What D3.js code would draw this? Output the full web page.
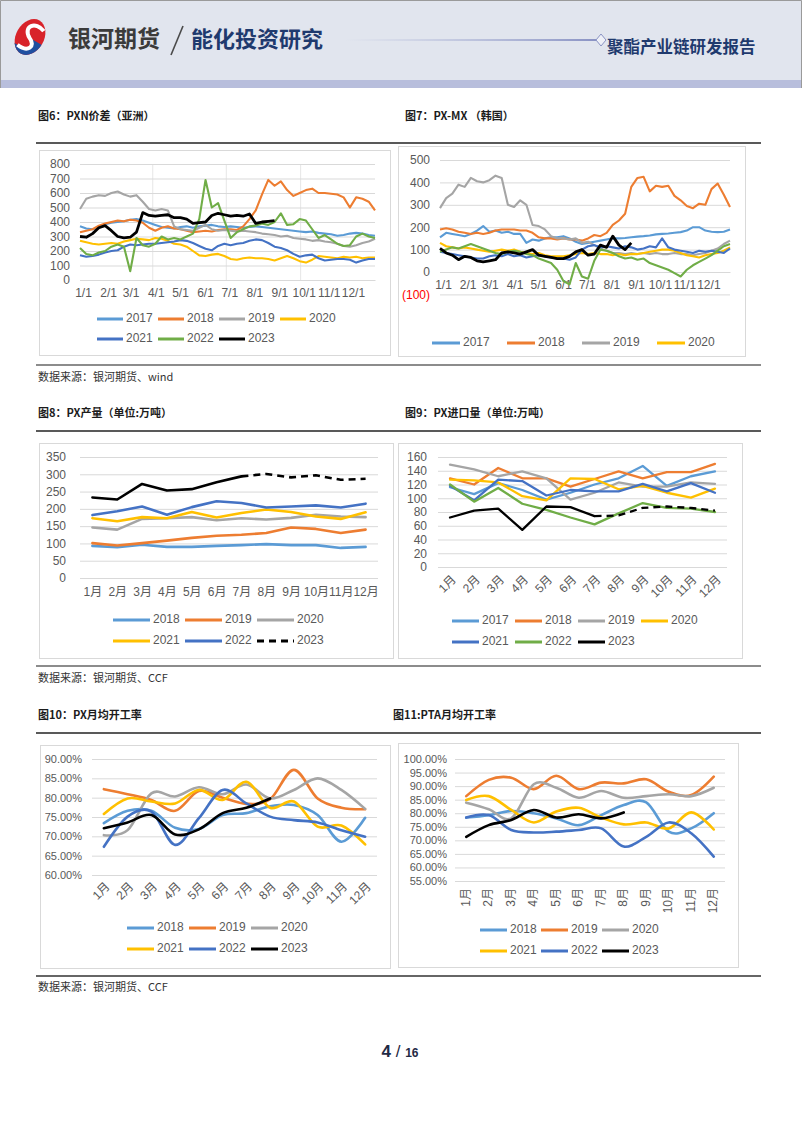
<!DOCTYPE html>
<html><head><meta charset="utf-8">
<script src="https://cdnjs.cloudflare.com/ajax/libs/d3/7.8.5/d3.min.js"></script>
<style>body{margin:0;background:#fff}svg{display:block}</style>
</head><body><script>
// ---------------- DATA ----------------
const monthDays = [0,31,59,90,120,151,181,212,243,273,304,334];
const dateLabels = ["1/1","2/1","3/1","4/1","5/1","6/1","7/1","8/1","9/1","10/1","11/1","12/1"];
const monthsCN = ["1月","2月","3月","4月","5月","6月","7月","8月","9月","10月","11月","12月"];

// Fig 6 PXN spread (Asia), ~weekly samples over the year
const pxn2017 = [370,355,350,360,385,395,400,405,415,420,410,395,380,365,360,355,365,370,360,370,375,380,370,365,370,365,360,365,370,365,360,355,350,345,340,335,330,335,325,320,315,305,310,320,325,320,310,305];
const pxn2018 = [330,340,350,375,390,400,410,405,415,410,395,360,340,360,370,355,350,340,330,335,340,335,345,350,350,345,370,420,480,590,690,650,680,620,580,600,620,630,600,600,595,590,570,500,570,560,540,480];
const pxn2019 = [490,560,575,585,580,600,610,590,575,585,540,490,480,490,480,370,350,345,340,360,380,350,340,345,340,335,340,335,330,320,315,310,300,305,290,285,280,270,275,265,260,250,235,230,240,255,265,285];
const pxn2020 = [270,260,250,245,250,255,250,265,275,285,280,275,290,285,270,250,245,230,200,170,165,175,180,165,145,140,150,155,150,150,145,135,150,165,150,130,120,140,165,160,155,150,160,155,160,150,155,155];
const pxn2021 = [170,160,165,175,190,200,205,230,245,240,245,250,250,255,260,265,275,270,255,235,215,205,235,250,240,250,255,270,280,275,255,230,220,205,180,160,170,175,150,135,140,145,145,140,120,135,145,145];
const pxn2022 = [220,180,170,190,200,230,245,230,60,290,240,230,250,300,280,290,280,300,320,420,690,500,530,410,290,330,350,370,375,390,380,400,460,380,385,420,410,350,290,310,280,250,235,240,300,320,300,290];
const pxn2023 = [300,295,320,360,375,340,300,290,295,330,465,445,440,445,450,430,430,420,390,395,400,445,460,450,440,445,440,455,390,400,405,410];

// Fig 7 PX-MX (Korea)
const pxmx2017 = [155,175,170,165,160,170,185,205,180,185,175,180,170,170,130,145,140,150,155,155,160,150,135,125,130,135,140,145,150,150,152,155,158,160,163,168,170,172,175,178,185,200,200,185,180,178,180,190];
const pxmx2018 = [190,195,190,180,175,170,175,170,175,185,190,190,190,185,185,175,155,150,150,145,150,145,145,140,150,165,160,175,210,230,260,380,420,425,360,385,380,385,340,320,295,285,305,300,370,395,345,290];
const pxmx2019 = [285,330,350,390,380,420,405,400,410,430,420,300,290,320,300,210,205,190,160,150,150,145,150,130,135,120,105,95,85,85,80,85,80,85,80,85,80,80,85,80,80,75,80,85,95,105,125,140];
const pxmx2020 = [130,115,110,105,110,105,100,95,90,95,100,95,100,90,85,80,85,75,70,70,70,75,80,85,80,85,80,80,75,80,75,80,80,85,90,95,100,100,95,85,75,70,65,75,80,85,95,110];
const pxmx2021 = [90,85,80,75,70,65,60,60,70,75,70,80,70,75,65,70,75,70,65,60,60,55,65,100,115,120,110,115,110,105,115,110,100,105,115,110,150,110,100,95,90,85,95,90,95,90,85,105];
const pxmx2022 = [90,100,110,105,115,125,115,105,95,85,80,90,95,90,80,75,60,50,40,10,-40,-55,40,-20,-30,50,100,95,85,70,60,65,55,60,40,30,20,10,-5,-20,10,30,45,60,75,95,115,125];
const pxmx2023 = [105,85,75,55,70,65,50,45,50,55,85,90,85,80,90,100,75,70,65,60,60,70,90,100,75,80,120,110,160,120,100,130];

// Fig 8 PX production (10k t)
const prod2018 = [93,89,96,90,90,93,95,98,95,95,87,90];
const prod2019 = [101,94,101,108,116,122,125,130,146,142,130,140];
const prod2020 = [146,140,171,173,176,167,173,169,174,183,178,176];
const prod2021 = [173,164,176,173,191,175,188,198,191,178,171,190];
const prod2022 = [182,193,207,183,205,222,217,204,207,210,204,215];
const prod2023 = [233,227,272,253,257,277,294,301,291,297,284,287];

// Fig 9 PX imports (10k t)
const imp2017 = [116,106,122,112,98,108,120,129,147,118,132,139];
const imp2018 = [129,120,144,129,129,117,128,139,129,138,138,150];
const imp2019 = [149,142,132,139,129,98,108,123,117,117,123,121];
const imp2020 = [127,126,123,103,97,129,128,113,118,108,101,114];
const imp2021 = [118,97,127,125,104,112,110,110,121,110,122,108];
const imp2022 = [120,95,115,92,83,72,62,78,93,86,85,80];
const imp2023 = [72,82,85,54,88,87,74,75,86,88,86,82];

// Fig 10 PX monthly operating rate (%)
const px2018 = [73.4,76.6,76.6,72.2,71.9,75.5,76.0,77.8,78.1,75.5,68.6,74.8];
const px2019 = [82.2,80.9,79.4,76.6,81.7,80.0,78.4,79.6,87.2,79.8,77.4,77.0];
const px2020 = [70.3,71.6,81.1,80.3,82.7,80.9,83.4,79.8,82.0,85.0,82.0,77.1];
const px2021 = [75.8,79.8,79.0,78.5,82.0,79.4,84.1,77.4,79.0,72.5,72.8,67.9];
const px2022 = [67.3,75.1,76.4,67.8,74.7,82.0,78.5,75.1,74.2,73.6,71.6,69.9];
const px2023 = [72.1,73.6,75.5,70.5,71.8,76.0,77.4,79.8];

// Fig 11 PTA monthly operating rate (%)
const pta2018 = [78.4,79.3,80.8,80.0,78.1,75.6,79.3,83.0,84.0,73.2,74.4,80.0];
const pta2019 = [86.3,92.3,93.1,88.9,93.8,88.9,91.3,91.0,92.5,87.9,86.7,93.5];
const pta2020 = [83.9,81.5,78.1,90.7,89.4,85.7,88.2,85.7,86.3,87.0,86.3,89.4];
const pta2021 = [84.9,86.3,81.2,76.6,80.6,82.0,78.4,75.9,76.6,74.4,80.3,74.0];
const pta2022 = [78.4,79.3,73.8,72.9,73.2,73.8,74.4,67.7,71.3,76.6,72.6,64.0];
const pta2023 = [71.3,75.6,77.5,81.2,78.4,79.6,78.1,80.3];

const ticks6 = [0,100,200,300,400,500,600,700,800];
const ticks7 = [-100,0,100,200,300,400,500];
const ticks8 = [0,50,100,150,200,250,300,350];
const ticks9 = [0,20,40,60,80,100,120,140,160];
const ticks10 = [60,65,70,75,80,85,90];
const ticks11 = [55,60,65,70,75,80,85,90,95,100];

// ---------------- STYLE ----------------
// Excel series palette by series order; 2023 is always black
const palette = ["#5B9BD5","#ED7D31","#A5A5A5","#FFC000","#4472C4","#70AD47"];
const colorOf = (yr,i) => yr==="2023" ? "#000000" : palette[i];
const NUM = '"Liberation Sans","Noto Sans CJK SC",sans-serif';
const CJK = '"Noto Sans CJK SC",sans-serif';
const AXC = "#595959", GRID = "#d9d9d9";
const STEP = 365/47;

const svg = d3.select("body").append("svg").attr("width",802).attr("height",1133);

// ---------------- HEADER ----------------
const defs = svg.append("defs");
const hg = defs.append("linearGradient").attr("id","hg").attr("x1",0).attr("x2",1);
hg.append("stop").attr("offset",0).attr("stop-color","#aab2d6").attr("stop-opacity",0);
hg.append("stop").attr("offset",1).attr("stop-color","#8a93c4");
svg.append("rect").attr("width",802).attr("height",80).attr("fill","#e1e5ee");
svg.append("rect").attr("y",80).attr("width",802).attr("height",8).attr("fill","#b8bedc");
svg.append("path").attr("d","M0.5,88 V0.5 H801.5 V88").attr("fill","none").attr("stroke","#9a9a9a");

defs.append("clipPath").attr("id","lc").append("ellipse").attr("rx",14).attr("ry",19);
const logo = svg.append("g").attr("transform","translate(30,37) rotate(30)");
const lg = logo.append("g").attr("clip-path","url(#lc)");
lg.append("rect").attr("x",-20).attr("y",-22).attr("width",40).attr("height",44).attr("fill","#d8232a");
lg.append("path").attr("d","M0,1 C10,5 6,15 -7,13 L-25,13 L-25,25 L25,25 L25,1 Z").attr("fill","#1f4fa0");
lg.append("path").attr("d","M9,-12 C-3,-17 -12,-6 0,1 C10,5 6,15 -7,13").attr("fill","none").attr("stroke","#fff").attr("stroke-width",4);

svg.append("text").attr("x",68).attr("y",47).text("银河期货")
  .style("font-family",CJK).style("font-weight","bold").style("font-size","23px").attr("fill","#3b3b3b");
svg.append("line").attr("x1",183).attr("y1",26).attr("x2",171).attr("y2",55).attr("stroke","#4a4a4a").attr("stroke-width",1.6);
svg.append("text").attr("x",191).attr("y",47).text("能化投资研究")
  .style("font-family",CJK).style("font-weight","bold").style("font-size","22px").attr("fill","#1f3a6e");
svg.append("rect").attr("x",345).attr("y",39).attr("width",251).attr("height",2).attr("fill","url(#hg)");
svg.append("path").attr("d","M601,34 L606,40 L601,46 L596,40 Z").attr("fill","#eef0f7").attr("stroke","#8a93c4");
svg.append("text").attr("x",607).attr("y",53).text("聚酯产业链研发报告")
  .style("font-family",CJK).style("font-weight","bold").style("font-size","16.5px").attr("fill","#1f3a6e");

// ---------------- HELPERS ----------------
function hrule(y, c){ svg.append("line").attr("x1",36).attr("x2",761).attr("y1",y).attr("y2",y).attr("stroke",c).attr("stroke-width",1.5); }
function title(x,y,t){ svg.append("text").attr("x",x).attr("y",y).attr("dominant-baseline","middle").text(t)
  .style("font-family",CJK).style("font-weight","bold").style("font-size","11px").attr("fill","#1c1c1c"); }
function source(y,t){ svg.append("text").attr("x",38).attr("y",y).attr("dominant-baseline","middle").text(t)
  .style("font-family",CJK).style("font-size","11px").attr("fill","#333"); }
function box(x0,y0,x1,y1){ svg.append("rect").attr("x",x0+0.5).attr("y",y0+0.5).attr("width",x1-x0).attr("height",y1-y0)
  .attr("fill","#fff").attr("stroke","#d9d9d9"); }
// rows: arrays of [year, seriesIndex]
function legend(rows, x0, pitch, len, ys, dashYear){
  rows.forEach((row,r)=>row.forEach(([yr,si],k)=>{
    const lx = x0 + k*pitch, ly = ys[r];
    const l = svg.append("line").attr("x1",lx).attr("x2",lx+len).attr("y1",ly).attr("y2",ly)
      .attr("stroke",colorOf(yr,si)).attr("stroke-width",3);
    if (yr===dashYear) l.attr("stroke-dasharray","7,5");
    svg.append("text").attr("x",lx+len+3).attr("y",ly).attr("dominant-baseline","middle").text(yr)
      .style("font-family",NUM).style("font-size","12px").attr("fill",AXC);
  }));
}
function yAxis(g, y, o){
  const ga = g.append("g").attr("transform",`translate(${o.x0},0)`)
    .call(d3.axisLeft(y).tickValues(o.ticks).tickSize(-(o.x1-o.x0)).tickPadding(o.ypad).tickFormat(o.fmt||(d=>d)));
  ga.select(".domain").remove();
  ga.selectAll(".tick line").attr("stroke",GRID);
  ga.selectAll(".tick text").attr("fill",d=>d<0?"#ff0000":AXC).style("font-family",NUM).style("font-size",(o.fs||12)+"px");
}

// ---------------- DAILY CHARTS ----------------
function dailyChart(o){
  const x = d3.scaleLinear().domain([0,365]).range([o.x0,o.x1]);
  const y = d3.scaleLinear().domain(o.dom).range([o.yb,o.yt]);
  const g = svg.append("g");
  (o.vgrid||[]).forEach(d=>g.append("line").attr("x1",x(d)).attr("x2",x(d)).attr("y1",y(o.dom[1])).attr("y2",y(0)).attr("stroke","#e6e6e6"));
  yAxis(g,y,o);
  const gx = g.append("g").attr("transform",`translate(0,${y(0)})`)
    .call(d3.axisBottom(x).tickValues(monthDays).tickSize(0).tickPadding(o.xpad).tickFormat((d,i)=>dateLabels[i]));
  gx.select(".domain").attr("stroke",GRID);
  gx.selectAll("text").attr("fill",AXC).attr("dx",3).style("font-family",NUM).style("font-size","12px");
  const line = d3.line().x((d,i)=>x(i*STEP)).y(d=>y(d));
  o.series.forEach(([yr,vals],si)=>{
    g.append("path").datum(vals).attr("d",line).attr("fill","none").attr("stroke",colorOf(yr,si))
      .attr("stroke-width",yr==="2023"?2.8:2.1).attr("stroke-linejoin","round");
  });
}

// ---------------- CATEGORY CHARTS ----------------
function catChart(o){
  const x = d3.scalePoint().domain(monthsCN).range([o.x0,o.x1]).padding(0.5);
  const y = d3.scaleLinear().domain(o.dom).range([o.yb,o.yt]);
  const g = svg.append("g");
  yAxis(g,y,o);
  const gx = g.append("g").attr("transform",`translate(0,${o.yb})`)
    .call(d3.axisBottom(x).tickSize(0).tickPadding(o.xpad||9));
  gx.select(".domain").remove();
  const tx = gx.selectAll("text").attr("fill",AXC).style("font-family",NUM).style("font-size","12px");
  if (o.rot===-45){
    tx.attr("x",0).attr("y",0).attr("dy",null).attr("text-anchor","end").attr("dominant-baseline","middle")
      .attr("transform",`translate(4,${o.roff}) rotate(-45)`);
  } else if (o.rot===-90){
    tx.attr("x",0).attr("y",0).attr("dy",null).attr("text-anchor","end").attr("dominant-baseline","middle")
      .attr("transform",`translate(0,${o.roff}) rotate(-90)`);
  }
  const line = d3.line().x(d=>x(monthsCN[d.i])).y(d=>y(d.v)).curve(o.curve||d3.curveLinear);
  o.series.forEach(([yr,vals],si)=>{
    const pts = vals.map((v,i)=>({i,v}));
    const col = colorOf(yr,si);
    const draw = (data, dash)=>{
      const p = g.append("path").datum(data).attr("d",line).attr("fill","none").attr("stroke",col)
        .attr("stroke-width",o.lw).attr("stroke-linejoin","round").attr("stroke-linecap","round");
      if (dash) p.attr("stroke-dasharray","7,5").attr("stroke-linecap","butt");
    };
    if (o.dashYear===yr){ draw(pts.slice(0,o.dashFrom+1),false); draw(pts.slice(o.dashFrom),true); }
    else draw(pts,false);
  });
}

// ---------------- PAGE ----------------
title(38,117,"图6：PXN价差（亚洲）");
title(405,117,"图7：PX-MX （韩国）");
hrule(143,"#222");
box(39,150,390,355);
box(398,146,745,356);

dailyChart({x0:80,x1:375,yt:164,yb:280,dom:[0,800],ticks:ticks6,ypad:10,xpad:8,vgrid:[90,181,273],
  series:[["2017",pxn2017],["2018",pxn2018],["2019",pxn2019],["2020",pxn2020],["2021",pxn2021],["2022",pxn2022],["2023",pxn2023]]});
legend([[["2017",0],["2018",1],["2019",2],["2020",3]],[["2021",4],["2022",5],["2023",6]]],97,61,26,[319,339]);

dailyChart({x0:440,x1:730,yt:160,yb:294.4,dom:[-100,500],ticks:ticks7,ypad:10,xpad:8,
  fmt:d=>d<0?`(${-d})`:d,
  series:[["2017",pxmx2017],["2018",pxmx2018],["2019",pxmx2019],["2020",pxmx2020],["2021",pxmx2021],["2022",pxmx2022],["2023",pxmx2023]]});
legend([[["2017",0],["2018",1],["2019",2],["2020",3]]],432,75,28,[343]);

hrule(365,"#666");
source(378,"数据来源：银河期货、wind");

title(38,414,"图8：PX产量（单位:万吨）");
title(405,414,"图9：PX进口量（单位:万吨）");
hrule(431,"#222");
box(39,443,393,658);
box(398,443,742,658);

catChart({x0:80,x1:378,yt:457,yb:578,dom:[0,350],ticks:ticks8,ypad:14,xpad:9,lw:2.6,dashYear:"2023",dashFrom:6,
  series:[["2018",prod2018],["2019",prod2019],["2020",prod2020],["2021",prod2021],["2022",prod2022],["2023",prod2023]]});
legend([[["2018",0],["2019",1],["2020",2]],[["2021",3],["2022",4],["2023",5]]],113,72,37,[620,641],"2023");

catChart({x0:438,x1:727,yt:457,yb:567,dom:[0,160],ticks:ticks9,ypad:11,rot:-45,roff:11,lw:2.3,dashYear:"2023",dashFrom:6,
  series:[["2017",imp2017],["2018",imp2018],["2019",imp2019],["2020",imp2020],["2021",imp2021],["2022",imp2022],["2023",imp2023]]});
legend([[["2017",0],["2018",1],["2019",2],["2020",3]],[["2021",4],["2022",5],["2023",6]]],452,63,27,[621,642]);

hrule(666,"#666");
source(679,"数据来源：银河期货、CCF");

title(38,716,"图10：PX月均开工率");
title(393,716,"图11:PTA月均开工率");
hrule(733,"#222");
box(40,745,390,968);
box(398,743,738,967);

catChart({x0:92,x1:377,yt:759,yb:875,dom:[60,90],ticks:ticks10,ypad:10,fs:11,fmt:d=>d.toFixed(2)+"%",rot:-45,roff:10,lw:2.6,
  curve:d3.curveCardinal,
  series:[["2018",px2018],["2019",px2019],["2020",px2020],["2021",px2021],["2022",px2022],["2023",px2023]]});
legend([[["2018",0],["2019",1],["2020",2]],[["2021",3],["2022",4],["2023",5]]],127,62,27,[928,949]);

catChart({x0:455,x1:725,yt:759,yb:881,dom:[55,100],ticks:ticks11,ypad:8,fs:11,fmt:d=>d.toFixed(2)+"%",rot:-90,roff:7,lw:2.6,
  curve:d3.curveCardinal,
  series:[["2018",pta2018],["2019",pta2019],["2020",pta2020],["2021",pta2021],["2022",pta2022],["2023",pta2023]]});
legend([[["2018",0],["2019",1],["2020",2]],[["2021",3],["2022",4],["2023",5]]],480,61,27,[930,951]);

hrule(976,"#333");
source(988,"数据来源：银河期货、CCF");

// page number
const pn = svg.append("text").attr("x",400).attr("y",1057).attr("text-anchor","middle").style("font-family",'"Liberation Sans Narrow","Liberation Sans",sans-serif').attr("fill","#1f2a44");
pn.append("tspan").text("4").style("font-size","17px").style("font-weight","bold");
pn.append("tspan").text(" / ").style("font-size","17px");
pn.append("tspan").text("16").style("font-size","12px").style("font-weight","bold");
</script></body></html>
